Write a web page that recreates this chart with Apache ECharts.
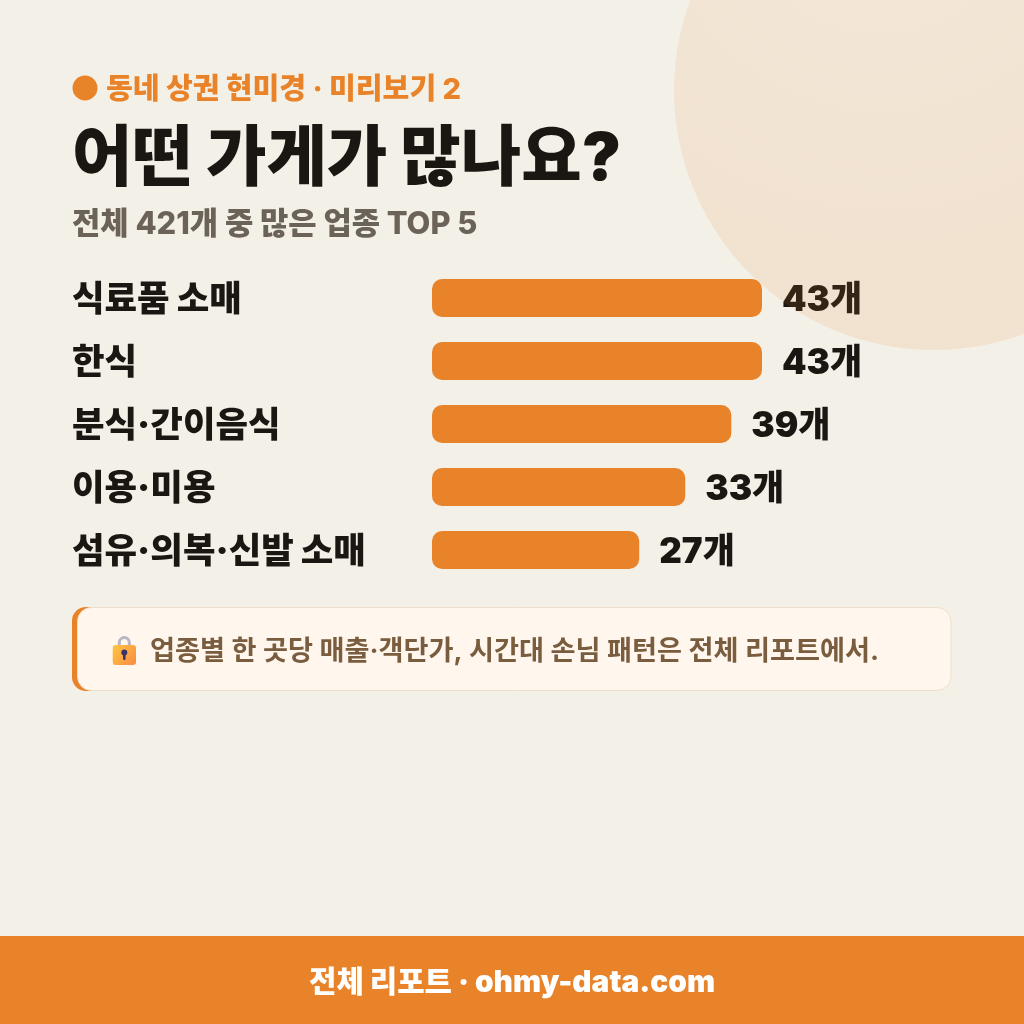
<!DOCTYPE html>
<html>
<head>
<meta charset="utf-8">
<style>html,body{margin:0;padding:0;background:#f3f0e8}#c{width:1024px;height:1024px}</style>
<script src="https://cdn.jsdelivr.net/npm/echarts@6/dist/echarts.min.js"></script>
</head>
<body>
<div id="c"></div>
<script>
// Top five business types in the neighbourhood
const categories = ['식료품 소매', '한식', '분식·간이음식', '이용·미용', '섬유·의복·신발 소매'];
const counts = [43, 43, 39, 33, 27];
const unit = '개';
const eyebrow = '동네 상권 현미경 · 미리보기 2';
const heading = '어떤 가게가 많나요?';
const subheading = '전체 421개 중 많은 업종 TOP 5';
const note = '업종별 한 곳당 매출·객단가, 시간대 손님 패턴은 전체 리포트에서.';
const footer = '전체 리포트 · ohmy-data.com';

const FONT = "Inter, 'Noto Sans CJK KR', sans-serif";
const ORANGE = '#e8832a';
const INK = '#1a1612';

const chart = echarts.init(document.getElementById('c'), null, {renderer: 'canvas'});

function text(x, y, str, size, weight, fill, align) {
  return {
    type: 'text', x, y, z: 5,
    style: {text: str, font: weight + ' ' + size + 'px ' + FONT, fill,
            align: align || 'left', verticalAlign: 'middle'}
  };
}

chart.setOption({
  animation: false,
  backgroundColor: '#f3f0e8',
  grid: {left: 432, top: 266.5, width: 330, height: 315, containLabel: false},
  xAxis: {type: 'value', min: 0, max: 43, show: false},
  yAxis: {
    type: 'category', inverse: true, data: categories,
    axisLine: {show: false}, axisTick: {show: false},
    axisLabel: {
      align: 'left', margin: 360, color: INK,
      // a small line box hung from the tick settles the text just below the bar centre
      verticalAlign: 'top', lineHeight: 5,
      fontFamily: FONT, fontWeight: 900, fontSize: 35.4
    }
  },
  series: [{
    type: 'bar', data: counts, barWidth: 38,
    itemStyle: {color: ORANGE, borderRadius: 10},
    label: {
      show: true, position: 'right', distance: 20, offset: [0, 2.5],
      formatter: p => p.value + unit,
      color: INK, fontFamily: FONT, fontWeight: 900, fontSize: 35
    }
  }],
  graphic: {elements: [
    // decorative disc in the top right corner, tinting whatever lies below it
    {type: 'circle', z: 50, silent: true, shape: {cx: 934, cy: 90, r: 260},
     style: {fill: {type: 'radial', x: 0.4, y: 0.1, r: 0.75, colorStops: [
       {offset: 0, color: 'rgba(240,140,50,0.085)'}, {offset: 1, color: 'rgba(232,131,42,0.125)'}]}}},

    {type: 'circle', z: 5, shape: {cx: 85, cy: 88, r: 12.5}, style: {fill: ORANGE}},
    text(106, 90, eyebrow, 29.1, 800, ORANGE),
    text(72, 160, heading, 65.7, 900, INK),
    text(72, 225, subheading, 30.8, 800, '#6b6358'),

    // call-out: accent strip behind a rounded panel
    {type: 'rect', z: 4, shape: {x: 72, y: 607, width: 40, height: 84, r: 14}, style: {fill: ORANGE}},
    {type: 'rect', z: 4, shape: {x: 77.5, y: 607.5, width: 873.5, height: 83, r: 14},
     style: {fill: '#fff7ed', stroke: '#f0dfc8', lineWidth: 1}},

    // padlock
    {type: 'rect', z: 5, shape: {x: 119.3, y: 637.5, width: 10, height: 14, r: 5},
     style: {stroke: '#b9b6c4', lineWidth: 3, fill: null}},
    {type: 'rect', z: 5, shape: {x: 112.7, y: 645, width: 23.3, height: 20, r: 3},
     style: {fill: {type: 'linear', x: 0, y: 0, x2: 1, y2: 1, colorStops: [
       {offset: 0, color: '#fdc640'}, {offset: 1, color: '#f98a45'}]}}},
    {type: 'circle', z: 6, shape: {cx: 124.3, cy: 652.5, r: 3}, style: {fill: '#3a3468'}},
    {type: 'rect', z: 6, shape: {x: 123, y: 652, width: 2.6, height: 8, r: 1.2}, style: {fill: '#3a3468'}},
    text(150, 652, note, 27.2, 700, '#7a5c3e'),

    // footer band
    {type: 'rect', z: 4, shape: {x: 0, y: 936, width: 1024, height: 88}, style: {fill: ORANGE}},
    text(512, 983, footer, 29.8, 900, '#ffffff', 'center')
  ]}
});
</script>
</body>
</html>
